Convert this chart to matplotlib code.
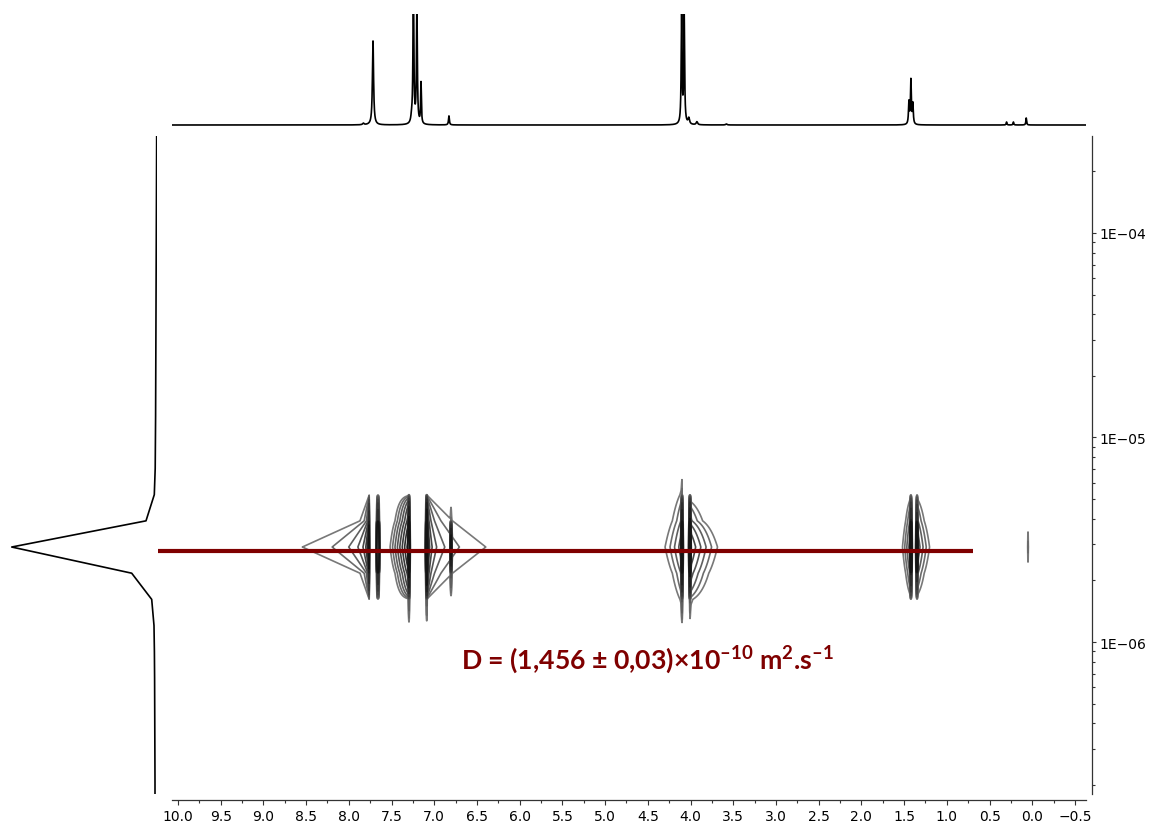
import numpy as np
import matplotlib
matplotlib.use('Agg')
import matplotlib.pyplot as plt
from matplotlib.ticker import FixedLocator, FuncFormatter

# ---------------- data ----------------
# 1D proton spectrum on top (peak list: ppm, height, half-width)
top_ppm = [7.83, 7.717, 7.265, 7.244, 7.203, 7.155, 6.828, 4.104, 4.074, 4.02, 3.925, 3.58,
           1.443, 1.420, 1.397, 0.30, 0.22, 0.07]
top_height = [1.5, 84, 5, 140, 120, 41, 9, 108, 108, 6, 3, 1.0, 22, 44, 20, 3, 3, 7]
top_hwhm = [0.01, 0.008, 0.01, 0.006, 0.006, 0.005, 0.006, 0.006, 0.006, 0.01, 0.01, 0.01,
            0.006, 0.006, 0.006, 0.005, 0.005, 0.005]

# diffusion dimension (log10 D), coarse grid rows
D_center = -5.5355
D_step = 0.128
proj_rows = list(range(16, -11, -1))
proj_intensity = [0.3, 0.4, 0.5, 0.6, 0.7, 0.8, 0.9, 1.0, 1.1, 1.2, 1.3, 1.4, 1.6, 1.8,
                  2.7, 11.0, 145.3, 25.3, 5.3, 3.0, 2.6, 2.4, 2.3, 2.2, 2.1, 2.0, 2.0]

# DOSY cross peaks: ppm, amplitude, left/right widths, lineshape, row profile (+3..-3)
pk_ppm = [7.762, 7.659, 7.296, 7.296, 7.089, 7.089, 6.804,
          4.100, 4.007, 4.100, 4.007, 1.420, 1.350, 1.420, 1.350, 0.050]
pk_amp = [391, 2000, 2000, 98, 2000, 346, 200,
          2000, 3000, 9, 20, 2000, 1500, 10.5, 10.3, 2.2]
pk_wl = [0.002, 0.006, 0.004, 0.048, 0.004, 1e-5, 0.004,
         0.004, 0.004, 0.08, 1e-5, 0.004, 0.004, 0.04, 1e-5, 0.003]
pk_wr = [1e-5, 0.006, 0.004, 1e-5, 0.004, 0.002, 0.004,
         0.004, 0.004, 1e-5, 0.1, 0.004, 0.004, 1e-5, 0.06, 0.003]
pk_shape = ['R', 'G', 'G', 'E', 'G', 'R', 'G',
            'G', 'G', 'E', 'E', 'G', 'G', 'E', 'E', 'G']
pk_rows = [[0, 0, 0.14, 1, 0.14, 0.0015, 0],
           [0, 0, 0.03, 1, 0.03, 0, 0],
           [0, 4.5e-4, 0.05, 1, 0.05, 2.5e-3, 1.5e-4],
           [0, 0, 0.31, 1, 0.31, 0.005, 0],
           [0, 4.5e-4, 0.05, 1, 0.05, 2.0e-3, 1.5e-4],
           [0, 0, 0.44, 1, 0.44, 0.0015, 0],
           [0, 0, 0.005, 1, 0.03, 0, 0],
           [0, 5e-4, 0.05, 1, 0.05, 2.5e-3, 1.5e-4],
           [0, 0, 0.04, 1, 0.04, 8e-4, 0],
           [0, 0.15, 0.41, 1, 0.41, 0.15, 0],
           [0, 0, 0.2, 1, 0.41, 0.07, 0],
           [0, 0, 0.03, 1, 0.03, 0, 0],
           [0, 0, 0.03, 1, 0.03, 0, 0],
           [0, 0.05, 0.43, 1, 0.43, 0.05, 0],
           [0, 0.05, 0.38, 1, 0.38, 0.05, 0],
           [0, 0, 0, 1, 0, 0, 0]]

# fitted diffusion line
fit_ppm = [10.23, 0.69]
fit_logD = [-5.553, -5.553]

x_ticks = [10.0, 9.5, 9.0, 8.5, 8.0, 7.5, 7.0, 6.5, 6.0, 5.5, 5.0, 4.5, 4.0, 3.5,
           3.0, 2.5, 2.0, 1.5, 1.0, 0.5, 0.0, -0.5]
y_decades = [-6, -5, -4]
y_labels = ['1E\u221206', '1E\u221205', '1E\u221204']

DASH = '\u2013'
label_text = ('D = (1,456 ± 0,03)×10' + r'$^{\mathbf{' + DASH + r'10}}$' +
              ' m' + r'$^{\mathbf{2}}$' + '.s' + r'$^{\mathbf{' + DASH + r'1}}$')

# ---------------- figure ----------------
plt.rcParams['mathtext.fontset'] = 'custom'
plt.rcParams['mathtext.bf'] = 'Lato:bold'
plt.rcParams['mathtext.rm'] = 'Lato:bold'

W, H = 1149, 829
fig = plt.figure(figsize=(W / 100, H / 100), dpi=100)


def box(x0, y0, x1, y1):
    return [x0 / W, 1 - y1 / H, (x1 - x0) / W, (y1 - y0) / H]


YLIM = (-6.743, -3.526)

# ---- main DOSY axes ----
ax = fig.add_axes(box(155, 137, 1092, 795))
ax.set_xlim(10.269, -0.699)
ax.set_ylim(*YLIM)

xg = np.arange(10.27, -0.70, -0.002)
rows = np.arange(16, -11, -1)
yg = D_center + D_step * rows
Z = np.zeros((len(rows), len(xg)))
for c, a, wl, wr, sh, prof in zip(pk_ppm, pk_amp, pk_wl, pk_wr, pk_shape, pk_rows):
    d = xg - c
    w = np.where(d > 0, wl, wr)
    if sh == 'G':
        f = np.exp(-0.5 * (d / w) ** 2)
    elif sh == 'L':
        f = 1.0 / (1.0 + (d / w) ** 2)
    elif sh == 'R':
        f = 1.0 / (1.0 + np.abs(d) / w)
    else:
        f = np.exp(-np.abs(d) / w)
    for i, k in enumerate(range(3, -4, -1)):
        r = np.where(rows == k)[0][0]
        Z[r] += a * prof[i] * f

levels = 1.8 ** np.arange(9)
cols = [str(v) for v in np.linspace(0.47, 0.08, len(levels))]
ax.contour(xg, yg, Z, levels=levels, colors=cols, linewidths=1.2)

ax.plot(fit_ppm, fit_logD, color='#7f0000', lw=3.0, solid_capstyle='butt')

ax.text(4.50, -6.083, label_text, color='#7f0000', fontsize=19.2,
        fontfamily=['Lato', 'DejaVu Sans'], fontweight='bold', ha='center', va='center')

for s in ['top', 'left']:
    ax.spines[s].set_visible(False)
ax.spines['right'].set_color('#333333')
ax.spines['right'].set_linewidth(0.9)
ax.spines['bottom'].set_bounds(10.07, -0.63)
ax.spines['bottom'].set_position(('outward', 4.3))
ax.spines['bottom'].set_color('#333333')
ax.spines['bottom'].set_linewidth(0.9)

ax.xaxis.set_major_locator(FixedLocator(x_ticks))
ax.xaxis.set_minor_locator(FixedLocator([t - 0.25 for t in x_ticks[:-1]]))
ax.xaxis.set_major_formatter(FuncFormatter(lambda v, p: ('%.1f' % v).replace('-', '\u2212')))
ax.tick_params(axis='x', which='major', length=3.5, width=0.8, color='#333333',
               labelsize=10, pad=3)
ax.tick_params(axis='x', which='minor', length=2, width=0.8, color='#333333')

ax.yaxis.tick_right()
ax.yaxis.set_major_locator(FixedLocator(y_decades))
ax.yaxis.set_major_formatter(FuncFormatter(lambda v, p: y_labels[y_decades.index(int(round(v)))]
                                           if int(round(v)) in y_decades else ''))
minors = [n + np.log10(m) for n in range(-7, -3) for m in range(2, 10)]
minors = [m for m in minors if YLIM[0] <= m <= YLIM[1]]
ax.yaxis.set_minor_locator(FixedLocator(minors))
ax.tick_params(axis='y', which='major', length=3, width=0.8, color='#333333',
               labelsize=10, pad=2)
ax.tick_params(axis='y', which='minor', length=2, width=0.8, color='#333333')

# ---- top 1D spectrum ----
axt = fig.add_axes(box(172, 15, 1086, 130))
xs = np.arange(10.07, -0.63, -0.0005)
spec = np.zeros_like(xs)
for c, h, w in zip(top_ppm, top_height, top_hwhm):
    spec += h / (1 + ((xs - c) / w) ** 2)
axt.plot(xs, spec, color='black', lw=1.2)
axt.set_xlim(10.07, -0.63)
axt.set_ylim(-4, 111)
axt.axis('off')

# ---- left projection ----
axl = fig.add_axes(box(0, 137, 157, 795))
axl.plot(proj_intensity, D_center + D_step * np.array(proj_rows), color='black', lw=1.2)
axl.set_xlim(157, 0)
axl.set_ylim(*YLIM)
axl.axis('off')

fig.savefig('out.png', dpi=100)
